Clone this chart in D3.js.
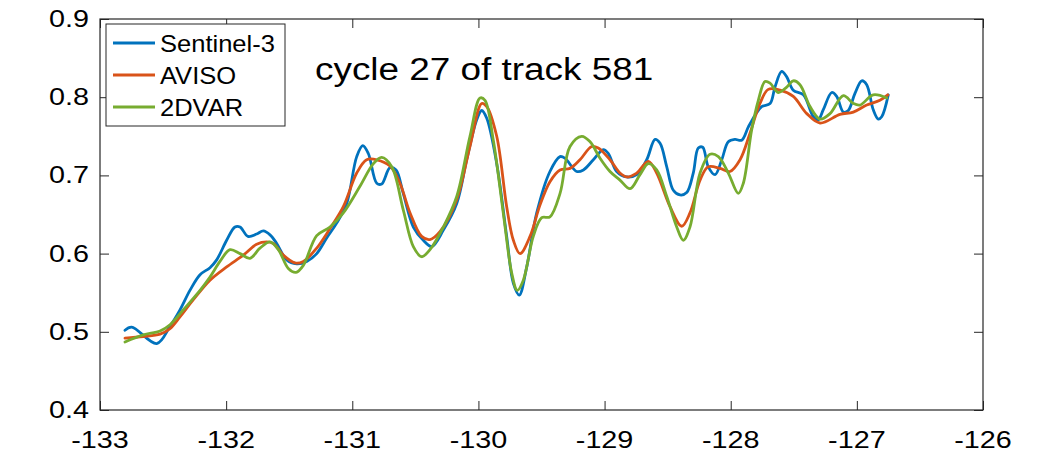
<!DOCTYPE html>
<html>
<head>
<meta charset="utf-8">
<script src="https://cdn.jsdelivr.net/npm/d3@7"></script>
<style>
  html, body { margin: 0; padding: 0; background: #fff; }
  svg { display: block; }
  text { font-family: "Liberation Sans", Arial, Helvetica, sans-serif; fill: #000; }
</style>
</head>
<body>
<svg id="chart" width="1043" height="455"></svg>
<script>
// Along-track sea level along track 581 (cycle 27): longitude vs height (m)
const seriesNames = ["Sentinel-3", "AVISO", "2DVAR"];
const seriesColors = ["#0072BD", "#D95319", "#77AC30"];

const sentinelLon = [-132.802,-132.749,-132.550,-132.445,-132.366,-132.287,-132.207,-132.128,-132.075,-131.996,-131.930,-131.890,-131.827,-131.758,-131.705,-131.652,-131.599,-131.520,-131.441,-131.361,-131.282,-131.203,-131.124,-131.044,-130.965,-130.917,-130.873,-130.806,-130.767,-130.701,-130.653,-130.596,-130.516,-130.437,-130.370,-130.278,-130.172,-130.093,-130.014,-129.974,-129.934,-129.855,-129.776,-129.723,-129.676,-129.617,-129.538,-129.433,-129.353,-129.314,-129.221,-129.168,-129.089,-129.010,-128.970,-128.904,-128.825,-128.745,-128.666,-128.600,-128.560,-128.507,-128.455,-128.402,-128.349,-128.297,-128.257,-128.222,-128.178,-128.124,-128.071,-128.019,-127.966,-127.913,-127.860,-127.807,-127.754,-127.688,-127.649,-127.596,-127.556,-127.504,-127.424,-127.345,-127.306,-127.266,-127.199,-127.160,-127.107,-127.068,-127.015,-126.961,-126.922,-126.870,-126.830,-126.803,-126.751];
const sentinelVal = [0.502,0.506,0.485,0.507,0.528,0.553,0.573,0.582,0.592,0.617,0.634,0.634,0.622,0.625,0.629,0.624,0.613,0.592,0.587,0.590,0.600,0.620,0.639,0.664,0.724,0.738,0.728,0.690,0.689,0.710,0.707,0.677,0.634,0.617,0.609,0.630,0.664,0.720,0.771,0.783,0.773,0.715,0.622,0.562,0.547,0.583,0.652,0.705,0.724,0.722,0.705,0.707,0.720,0.733,0.728,0.705,0.698,0.701,0.720,0.746,0.741,0.711,0.681,0.675,0.678,0.703,0.735,0.736,0.711,0.701,0.720,0.743,0.746,0.745,0.762,0.777,0.788,0.792,0.813,0.833,0.826,0.809,0.803,0.775,0.771,0.784,0.806,0.801,0.781,0.783,0.805,0.821,0.816,0.784,0.772,0.775,0.803];

const avisoLon = [-132.802,-132.657,-132.524,-132.445,-132.366,-132.260,-132.128,-131.996,-131.864,-131.758,-131.678,-131.626,-131.547,-131.454,-131.388,-131.282,-131.177,-131.071,-130.965,-130.886,-130.806,-130.701,-130.622,-130.542,-130.450,-130.384,-130.305,-130.172,-130.067,-129.974,-129.934,-129.855,-129.776,-129.723,-129.670,-129.591,-129.512,-129.433,-129.353,-129.274,-129.195,-129.102,-129.050,-128.957,-128.878,-128.825,-128.745,-128.653,-128.587,-128.481,-128.388,-128.323,-128.243,-128.178,-128.085,-128.006,-127.926,-127.847,-127.768,-127.702,-127.609,-127.504,-127.397,-127.292,-127.134,-127.028,-126.922,-126.817,-126.755];
const avisoVal = [0.492,0.494,0.497,0.504,0.519,0.541,0.566,0.583,0.598,0.612,0.615,0.613,0.598,0.588,0.590,0.607,0.632,0.660,0.703,0.720,0.720,0.712,0.690,0.652,0.622,0.618,0.628,0.669,0.737,0.792,0.788,0.750,0.660,0.617,0.600,0.622,0.662,0.692,0.707,0.709,0.720,0.737,0.735,0.720,0.703,0.698,0.703,0.718,0.703,0.660,0.635,0.652,0.694,0.711,0.709,0.705,0.720,0.754,0.792,0.810,0.809,0.801,0.779,0.767,0.778,0.781,0.790,0.796,0.803];

const dvarLon = [-132.802,-132.657,-132.524,-132.445,-132.340,-132.207,-132.128,-132.049,-131.969,-131.890,-131.811,-131.732,-131.652,-131.586,-131.507,-131.446,-131.388,-131.282,-131.177,-131.071,-130.939,-130.833,-130.767,-130.687,-130.596,-130.516,-130.450,-130.384,-130.278,-130.172,-130.067,-129.987,-129.948,-129.882,-129.803,-129.736,-129.692,-129.644,-129.565,-129.498,-129.433,-129.353,-129.274,-129.181,-129.115,-129.036,-128.957,-128.878,-128.798,-128.719,-128.653,-128.587,-128.507,-128.428,-128.376,-128.323,-128.243,-128.164,-128.098,-128.019,-127.940,-127.900,-127.834,-127.781,-127.728,-127.688,-127.623,-127.556,-127.504,-127.451,-127.371,-127.292,-127.213,-127.107,-127.028,-126.975,-126.870,-126.763];
const dvarVal = [0.487,0.496,0.501,0.509,0.528,0.553,0.570,0.590,0.605,0.600,0.594,0.607,0.615,0.605,0.581,0.576,0.585,0.623,0.634,0.652,0.686,0.715,0.723,0.711,0.656,0.609,0.596,0.605,0.634,0.673,0.750,0.799,0.796,0.745,0.652,0.575,0.553,0.566,0.622,0.646,0.647,0.677,0.737,0.750,0.743,0.722,0.705,0.694,0.683,0.701,0.715,0.707,0.673,0.634,0.617,0.634,0.703,0.727,0.724,0.703,0.677,0.690,0.758,0.796,0.820,0.818,0.806,0.813,0.821,0.816,0.788,0.772,0.779,0.802,0.792,0.790,0.803,0.799];

const xTicks = [-133, -132, -131, -130, -129, -128, -127, -126];
const yTicks = [0.4, 0.5, 0.6, 0.7, 0.8, 0.9];
const titleText = "cycle 27 of track 581";

const series = [
  { name: seriesNames[0], color: seriesColors[0], pts: sentinelLon.map((x, i) => [x, sentinelVal[i]]) },
  { name: seriesNames[1], color: seriesColors[1], pts: avisoLon.map((x, i) => [x, avisoVal[i]]) },
  { name: seriesNames[2], color: seriesColors[2], pts: dvarLon.map((x, i) => [x, dvarVal[i]]) }
];

const svg = d3.select("#chart");
const plot = { left: 100, right: 983, top: 19, bottom: 410 };
const axisColor = "#262626";

const x = d3.scaleLinear().domain([-133, -126]).range([plot.left, plot.right]);
const y = d3.scaleLinear().domain([0.4, 0.9]).range([plot.bottom, plot.top]);

const tickLen = 9;
const tickFont = 23, tickStretch = 1.25;

// Data lines
const line = d3.line()
  .x(d => x(d[0]))
  .y(d => y(d[1]))
  .curve(d3.curveCatmullRom.alpha(0.5));

svg.append("g").selectAll("path")
  .data(series)
  .join("path")
  .attr("d", d => line(d.pts))
  .attr("fill", "none")
  .attr("stroke", d => d.color)
  .attr("stroke-width", 2.8)
  .attr("stroke-linejoin", "round")
  .attr("stroke-linecap", "round");

// Axes: bottom/left with labels, top/right mirror ticks only (inward)
const axisBottom = d3.axisBottom(x).tickValues(xTicks).tickSize(-tickLen).tickPadding(0).tickFormat("");
const axisTop = d3.axisTop(x).tickValues(xTicks).tickSize(-tickLen).tickFormat("");
const axisLeft = d3.axisLeft(y).tickValues(yTicks).tickSize(-tickLen).tickFormat("");
const axisRight = d3.axisRight(y).tickValues(yTicks).tickSize(-tickLen).tickFormat("");

function styleAxis(g) {
  g.select(".domain").remove();
  g.selectAll(".tick line").attr("stroke", axisColor).attr("stroke-width", 1);
}
svg.append("g").attr("transform", `translate(0,${plot.bottom})`).call(axisBottom).call(styleAxis);
svg.append("g").attr("transform", `translate(0,${plot.top})`).call(axisTop).call(styleAxis);
svg.append("g").attr("transform", `translate(${plot.left},0)`).call(axisLeft).call(styleAxis);
svg.append("g").attr("transform", `translate(${plot.right},0)`).call(axisRight).call(styleAxis);

// Frame
svg.append("rect")
  .attr("x", plot.left).attr("y", plot.top)
  .attr("width", plot.right - plot.left).attr("height", plot.bottom - plot.top)
  .attr("fill", "none").attr("stroke", axisColor).attr("stroke-width", 1.2);

// Tick labels (plain hyphen-minus for negatives)
svg.append("g").selectAll("text")
  .data(xTicks)
  .join("text")
  .attr("transform", d => `translate(${x(d)},${plot.bottom + 38}) scale(${tickStretch},1)`)
  .attr("text-anchor", "middle")
  .attr("font-size", tickFont)
  .text(d => String(d));

svg.append("g").selectAll("text")
  .data(yTicks)
  .join("text")
  .attr("transform", d => `translate(${plot.left - 11},${y(d) + 8}) scale(${tickStretch},1)`)
  .attr("text-anchor", "end")
  .attr("font-size", tickFont)
  .text(d => d.toFixed(1));

// Title annotation inside the axes
svg.append("text")
  .attr("transform", `translate(315,80) scale(1.19,1)`)
  .attr("font-size", 31)
  .text(titleText);

// Legend
const legend = svg.append("g");
legend.append("rect")
  .attr("x", 106).attr("y", 24).attr("width", 179).attr("height", 102)
  .attr("fill", "#fff").attr("stroke", axisColor).attr("stroke-width", 1);
const rows = legend.selectAll("g.row")
  .data(series)
  .join("g")
  .attr("class", "row")
  .attr("transform", (d, i) => `translate(0,${43 + i * 32})`);
rows.append("line")
  .attr("x1", 113).attr("x2", 155)
  .attr("y1", 0).attr("y2", 0)
  .attr("stroke", d => d.color).attr("stroke-width", 2.8);
rows.append("text")
  .attr("transform", "translate(160,8.5) scale(1.11,1)")
  .attr("font-size", 23)
  .text(d => d.name);
</script>
</body>
</html>
